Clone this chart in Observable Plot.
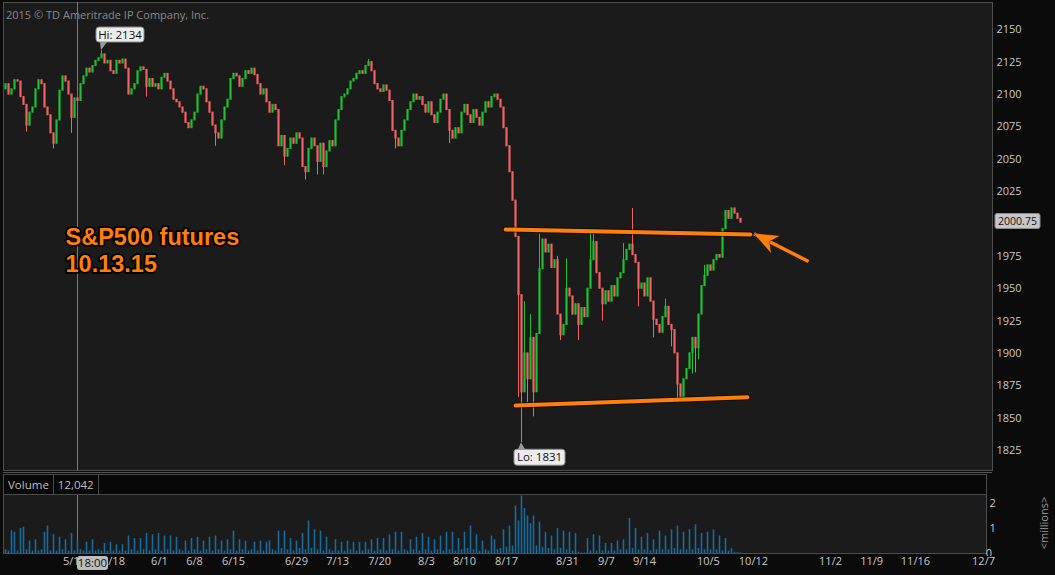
<!DOCTYPE html>
<html><head><meta charset="utf-8">
<script src="https://cdn.jsdelivr.net/npm/d3@7"></script>
<script src="https://cdn.jsdelivr.net/npm/@observablehq/plot@0.6"></script>
<style>
body{margin:0;background:#0b0b0b;}
#c{position:relative;width:1055px;height:575px;background:#0b0b0b;overflow:hidden;font-family:"Open Sans",sans-serif;}
#c svg{position:absolute;left:0;overflow:visible;}
.copy{position:absolute;left:6px;top:7px;font-size:11px;color:#8a8a8a;white-space:nowrap;}
.sep{position:absolute;left:3px;width:989px;height:1px;background:#555;}
.vhead{position:absolute;left:3px;top:474px;width:982px;height:19px;background:#080808;border:1px solid #4a4a4a;font-size:11.5px;color:#bdbdbd;}
.vhead span{display:inline-block;height:19px;line-height:19px;padding:0 4px;border-right:1px solid #4a4a4a;}
.mill{position:absolute;left:1043px;top:523px;transform:translate(-50%,-50%) rotate(-90deg);font-size:11px;color:#9a9a9a;white-space:nowrap;}
</style></head><body><div id="c"></div><script>
// ---- data ----
const firstOpen = 2104;
const closes = [
2108,2100,2104,2111,2110,2098,2092,2076,2086,2090,
2104,2111,2108,2090,2084,2070,2062,2080,2103,2114,
2110,2100,2082,2097,2095,2108,2114,2120,2117,2122,
2126,2128,2131,2124,2126,2118,2116,2126,2124,2127,
2120,2100,2104,2108,2118,2121,2119,2106,2112,2106,
2108,2104,2113,2116,2110,2104,2096,2094,2090,2086,
2078,2074,2080,2086,2100,2106,2104,2094,2086,2076,
2070,2066,2080,2090,2096,2112,2116,2114,2106,2112,
2118,2116,2120,2115,2108,2100,2104,2094,2086,2092,
2088,2060,2068,2052,2058,2066,2062,2070,2066,2044,
2040,2058,2066,2060,2048,2062,2044,2056,2064,2060,
2080,2088,2098,2100,2104,2110,2112,2116,2118,2116,
2122,2125,2118,2108,2104,2102,2107,2103,2095,2072,
2066,2060,2072,2080,2088,2094,2100,2096,2098,2092,
2086,2094,2084,2078,2086,2096,2100,2088,2072,2066,
2074,2070,2086,2092,2084,2078,2088,2082,2076,2086,
2094,2090,2098,2100,2096,2090,2074,2060,2040,2018,
1990,1945,1870,1900,1880,1912,1870,1915,1965,1988,
1978,1984,1966,1972,1930,1914,1922,1950,1944,1930,
1938,1922,1935,1928,1950,1972,1986,1962,1950,1938,
1948,1940,1952,1944,1958,1962,1972,1980,1984,1976,
1970,1950,1954,1944,1958,1940,1926,1922,1916,1928,
1936,1922,1918,1900,1876,1866,1880,1888,1900,1912,
1904,1930,1952,1960,1968,1964,1972,1976,1974,1996,
2010,2004,2012,2008,2004,2001];
const highIdx = [32, 209, 121, 196, 178, 233, 173, 175, 184, 187, 195, 206, 220];
const highVal = [2134, 2012, 2127, 1992, 1992, 1968, 1940, 1930, 1975, 1973, 1993, 1985, 1942];
const lowIdx = [7, 16, 100, 172, 176, 224, 230, 185, 171, 174, 22, 47, 70, 93, 104, 106, 130, 148, 177, 191, 199, 211, 216, 222, 229, 231];
const lowVal = [2071, 2058, 2034, 1831, 1851, 1862, 1885, 1910, 1866, 1862, 2070, 2098, 2060, 2045, 2038, 2038, 2058, 2062, 1880, 1910, 1925, 1936, 1912, 1905, 1884, 1895];
const volume = [
0.15,0.1,0.9,0.85,0.1,1.0,1.05,0.15,0.5,0.1,
0.55,0.1,0.15,0.85,1.1,0.1,0.75,0.1,0.65,0.15,
0.55,0.1,0.8,0.1,0.5,0.15,0.1,0.45,0.1,0.55,
0.1,0.15,0.1,0.4,0.1,0.45,0.1,0.35,0.1,0.35,
0.1,0.7,0.15,0.6,0.1,0.6,0.15,0.8,0.1,0.75,
0.15,0.8,0.1,0.7,0.15,0.7,0.1,0.65,0.15,0.1,
0.5,0.1,0.6,0.15,0.65,0.1,0.5,0.15,0.65,0.1,
0.7,0.15,0.5,0.1,0.55,0.15,0.9,0.1,0.55,0.15,
0.5,0.1,0.15,0.45,0.1,0.5,0.1,0.45,0.5,0.15,
0.1,0.9,0.2,0.9,0.15,0.6,0.1,0.5,0.2,0.8,
0.15,1.3,0.2,0.95,0.15,0.9,0.1,0.65,0.15,0.1,
0.55,0.1,0.45,0.1,0.5,0.15,0.45,0.1,0.45,0.1,
0.45,0.15,0.55,0.1,0.6,0.15,0.6,0.1,0.75,0.15,
0.85,0.1,0.85,0.15,0.1,0.55,0.15,0.65,0.1,0.8,
0.15,0.65,0.1,0.55,0.15,0.7,0.1,0.85,0.15,0.85,
0.1,0.6,0.15,0.85,0.2,1.1,0.15,0.75,0.1,0.5,
0.15,0.1,0.7,0.55,0.15,0.2,0.95,0.25,1.1,0.3,
1.9,1.3,2.3,1.8,1.5,1.2,1.5,0.3,1.25,0.25,
0.85,0.2,0.7,0.15,1.0,0.2,0.9,0.15,0.85,0.1,
0.8,0.05,0.02,0.02,0.6,0.1,0.75,0.1,0.7,0.1,
0.4,0.1,0.4,0.1,0.5,0.15,0.55,0.15,1.4,0.2,
1.0,0.15,0.65,0.15,0.8,0.1,0.55,0.15,0.9,0.15,
0.7,0.15,0.95,0.2,1.1,0.15,0.85,0.15,0.95,0.15,
1.15,0.2,0.8,0.15,0.85,0.15,0.95,0.15,0.7,0.1,
0.6,0.1,0.2,0.05,0.03,0.02];
const priceTicks = [2150,2125,2100,2075,2050,2025,1975,1950,1925,1900,1875,1850,1825];
const volTicks = [1,2];
const volZeroTick = 0;
const dateIdx = [23,36,51.3,63,76,97,110.7,124.7,140.3,153,167,187.3,200.3,213,234.3,249.3,275,288.7,303.3,326];
const dateLabels = ["5/11","5/18","6/1","6/8","6/15","6/29","7/13","7/20","8/3","8/10","8/17","8/31","9/7","9/14","10/5","10/12","11/2","11/9","11/16","12/7"];
const topLine = [{i:166.7,p:1995.7},{i:248.3,p:1991.9}];
const bottomLine = [{i:170,p:1859.8},{i:247.3,p:1866.1}];
const arrowFrom = {i:267.7,p:1971}, arrowTo = {i:249.5,p:1992.4};
const lastPrice = 2000.75;
const cursorIdx = 24;
const titleLines = ["S&P500 futures","10.13.15"];
const titlePos = [{i:20,p:1989.6},{i:20,p:1968.4}];

// ---- build candles ----
const candles = closes.map((c,i)=>{
  const o = i ? closes[i-1] : firstOpen;
  let hi = Math.max(o,c), lo = Math.min(o,c);
  const h = highIdx.indexOf(i); if (h>=0) hi = Math.max(hi, highVal[h]);
  const l = lowIdx.indexOf(i); if (l>=0) lo = Math.min(lo, lowVal[l]);
  return {i, o, c, hi, lo, up: c >= o};
});
const GREEN = "#1cc22f", RED = "#f26464", ORANGE = "#ff7e0c";
const root = document.getElementById("c");
const style = {fontFamily:"Open Sans, sans-serif", fontSize:"11px", color:"#c8c8c8", background:"transparent", overflow:"visible"};

// ---- price panel ----
const price = Plot.plot({
  width:1055, height:472, marginLeft:3, marginRight:63, marginTop:2, marginBottom:2,
  style,
  x:{domain:[-0.667,329], axis:null},
  y:{domain:[1809.55,2171.1], axis:"right", ticks:priceTicks, tickSize:0, tickPadding:4, label:null, tickFormat:d=>String(d)},
  marks:[
    Plot.frame({fill:"#1b1b1b", stroke:"#4d4d4d"}),
    Plot.ruleX([cursorIdx], {stroke:"#7a7a7a", strokeWidth:1}),
    Plot.ruleX(candles, {x:"i", y1:"lo", y2:"hi", stroke:d=>d.up?GREEN:RED, strokeWidth:1}),
    Plot.ruleX(candles, {x:"i", y1:d=>Math.min(d.o,d.c)-0.4, y2:d=>Math.max(d.o,d.c)+0.4, stroke:d=>d.up?GREEN:RED, strokeWidth:2.2}),
    Plot.line(topLine, {x:"i", y:"p", stroke:"#000", strokeOpacity:0.5, strokeWidth:6}),
    Plot.line(topLine, {x:"i", y:"p", stroke:ORANGE, strokeWidth:4}),
    Plot.line(bottomLine, {x:"i", y:"p", stroke:"#000", strokeOpacity:0.5, strokeWidth:6}),
    Plot.line(bottomLine, {x:"i", y:"p", stroke:ORANGE, strokeWidth:4}),
    Plot.link([0], {x1:()=>arrowFrom.i, y1:()=>arrowFrom.p, x2:()=>arrowTo.i, y2:()=>arrowTo.p, stroke:ORANGE, strokeWidth:3.5}),
    Plot.text(titleLines, {x:(d,k)=>titlePos[k].i, y:(d,k)=>titlePos[k].p, text:d=>d, textAnchor:"start", fill:ORANGE, stroke:"#000", strokeWidth:3.5, paintOrder:"stroke", fontSize:23.5, fontWeight:"bold", fontFamily:"Liberation Sans, Arial, sans-serif"})
  ]
});
price.style.top = "0px";
root.appendChild(price);

// ---- annotations on price panel positioned with the plot scales ----
const sx = price.scale("x"), sy = price.scale("y");
const ps = d3.select(price);
function callout(svg, tx, ty, bx, by, w, h, label){
  const g = svg.append("g");
  const edge = by > ty ? by : by + h;
  g.append("path").attr("d", `M${tx},${ty} L${bx+4},${edge} L${bx+11},${edge} Z`).attr("fill","#9a9a9a");
  g.append("rect").attr("x",bx).attr("y",by).attr("width",w).attr("height",h).attr("rx",3)
    .style("fill","#ececec").style("stroke","#8a8a8a");
  g.append("text").attr("x",bx+w/2).attr("y",by+h/2).attr("dy","0.35em").attr("text-anchor","middle")
    .style("fill","#111").attr("font-size",11.5).text(label);
}
{
  // arrow head (filled) at the tip
  const x1 = sx.apply(arrowFrom.i), y1 = sy.apply(arrowFrom.p);
  const x2 = sx.apply(arrowTo.i), y2 = sy.apply(arrowTo.p);
  const L = Math.hypot(x2-x1, y2-y1), ux = (x2-x1)/L, uy = (y2-y1)/L;
  const hl = 25, hw = 10;
  const bx = x2 - ux*hl, by = y2 - uy*hl;
  const pts = [[x2,y2],[bx - uy*hw, by + ux*hw],[x2 - ux*hl*0.72, y2 - uy*hl*0.72],[bx + uy*hw, by - ux*hw]];
  ps.append("path").attr("d","M"+pts.map(p=>p.join(",")).join("L")+"Z").style("fill",ORANGE).style("stroke","#000").style("stroke-opacity",0.35);

  const hiC = candles[highIdx[0]];
  const tx = sx.apply(hiC.i), ty = sy.apply(hiC.hi);
  callout(ps, tx, ty, tx-5, ty-23, 48, 15, "Hi: " + hiC.hi);
  const loC = candles[lowIdx[3]];
  const lx = sx.apply(loC.i), ly = sy.apply(loC.lo);
  callout(ps, lx, ly, lx-7, ly+7, 51, 16, "Lo: " + loC.lo);

  const yy = sy.apply(lastPrice);
  const g = ps.append("g");
  g.append("rect").attr("x",995).attr("y",yy-9).attr("width",45).attr("height",15).attr("rx",2)
    .style("fill","#c6c6c6").style("stroke","#8c8c8c");
  g.append("text").attr("x",1017.5).attr("y",yy-1.5).attr("dy","0.35em").attr("text-anchor","middle")
    .style("fill","#111").attr("font-size",10.5).text(lastPrice.toFixed(2));
}

// ---- volume panel ----
const labelMap = new Map(dateIdx.map((d,k)=>[d,dateLabels[k]]));
const vol = Plot.plot({
  width:1055, height:81, marginLeft:3, marginRight:69, marginTop:0, marginBottom:22,
  style,
  x:{domain:[-0.667,327], ticks:dateIdx, tickFormat:d=>labelMap.get(d), tickSize:0, tickPadding:4, label:null},
  y:{domain:[0,2.36], axis:"right", ticks:volTicks, tickSize:0, tickPadding:3, label:null, tickFormat:d=>String(d)},
  marks:[
    Plot.frame({fill:"#1b1b1b", stroke:"#4d4d4d"}),
    Plot.ruleX([cursorIdx], {stroke:"#7a7a7a", strokeWidth:1}),
    Plot.ruleX(volume, {x:(d,k)=>k, y1:0, y2:d=>d, stroke:"#176b9d", strokeWidth:1.6})
  ]
});
vol.style.top = "494px";
root.appendChild(vol);
{
  const vs = d3.select(vol);
  const vyz = vol.scale("y").apply(volZeroTick);
  // zero tick label, clipped at the panel edge as in the original
  vs.append("clipPath").attr("id","zclip").append("rect").attr("x",980).attr("y",vyz-10).attr("width",30).attr("height",13);
  vs.append("text").attr("x",989).attr("y",vyz).attr("dy","0.32em").attr("clip-path","url(#zclip)")
    .style("fill","#c8c8c8").attr("font-size",11).text(String(volZeroTick));
  const vx = vol.scale("x").apply(cursorIdx);
  const g = vs.append("g");
  g.append("rect").attr("x",vx).attr("y",62).attr("width",31).attr("height",14).attr("rx",3).style("fill","#bdbdbd");
  g.append("text").attr("x",vx+15.5).attr("y",69).attr("dy","0.35em").attr("text-anchor","middle")
    .style("fill","#111").attr("font-size",11.5).text("18:00");
}

// ---- html chrome ----
root.insertAdjacentHTML("beforeend",
 `<div class="copy">2015 © TD Ameritrade IP Company, Inc.</div>
  <div class="sep" style="top:472px"></div>
  <div class="vhead"><span>Volume</span><span>12,042</span></div>
  <div class="mill">&lt;millions&gt;</div>`);
</script></body></html>
